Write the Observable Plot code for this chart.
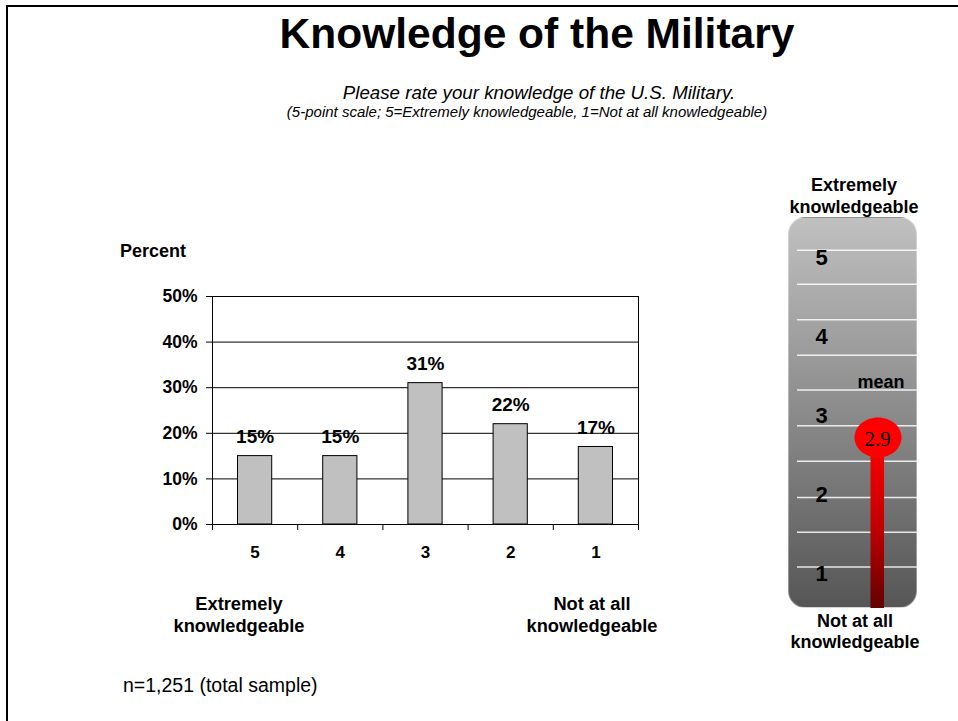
<!DOCTYPE html>
<html>
<head>
<meta charset="utf-8">
<script src="https://cdn.jsdelivr.net/npm/d3@7"></script>
<script src="https://cdn.jsdelivr.net/npm/@observablehq/plot@0.6"></script>
<style>
  html, body { margin: 0; padding: 0; background: #fff; }
  body { width: 958px; height: 721px; position: relative; overflow: hidden;
         font-family: "Liberation Sans", Arial, sans-serif; color: #000; }
  .abs { position: absolute; white-space: nowrap; }
  .c { transform: translateX(-50%); text-align: center; }
  .b { font-weight: bold; }
  #frame { position: absolute; left: 6px; top: 5px; width: 1000px; height: 800px;
           border-top: 2px solid #000; border-left: 2px solid #000; }
  #gaugebg { position: absolute; left: 788px; top: 217px; width: 129px; height: 391px;
             border-radius: 17px; background: linear-gradient(to bottom, #c0c0c0, #565656);
             box-sizing: border-box; border: 1px solid rgba(255,255,255,0.35); }
  svg { overflow: visible; }
</style>
</head>
<body>
<div id="frame"></div>
<div class="abs c b" style="left:537px; top:10px; font-size:42.5px; line-height:48px;">Knowledge of the Military</div>
<div class="abs c" style="left:539px; top:82px; font-size:18.7px; line-height:22px; font-style:italic;">Please rate your knowledge of the U.S. Military.</div>
<div class="abs c" style="left:527px; top:103px; font-size:15px; line-height:18px; font-style:italic;">(5-point scale; 5=Extremely knowledgeable, 1=Not at all knowledgeable)</div>
<div class="abs b" style="left:120px; top:241px; font-size:18px; line-height:20px;">Percent</div>
<div class="abs c b" style="left:239px; top:593px; font-size:18.3px; line-height:22px;">Extremely<br>knowledgeable</div>
<div class="abs c b" style="left:592px; top:593px; font-size:18.3px; line-height:22px;">Not at all<br>knowledgeable</div>
<div class="abs" style="left:123px; top:674px; font-size:19.5px; line-height:22px;">n=1,251 (total sample)</div>
<div class="abs c b" style="left:854px; top:174px; font-size:18px; line-height:22px;">Extremely<br>knowledgeable</div>
<div class="abs c b" style="left:855px; top:611px; font-size:18px; line-height:21px;">Not at all<br>knowledgeable</div>
<div id="gaugebg"></div>
<div id="bars" class="abs" style="left:100px; top:270px;"></div>
<div id="gauge" class="abs" style="left:797px; top:210px;"></div>
<script>
// ---- data ----
const ratings = [5, 4, 3, 2, 1];
const percents = [15, 15, 31, 22, 17];
const yTicks = [0, 10, 20, 30, 40, 50];
const levels = [1, 2, 3, 4, 5];
const gaugeLines = [5.27, 4.84, 4.39, 3.94, 3.50, 3.05, 2.60, 2.14, 1.70, 1.26];
const meanScore = 2.9;

const data = ratings.map((r, i) => ({rating: r, pct: percents[i]}));
const boundaries = ratings.map(r => r + 0.5).concat([ratings[ratings.length - 1] - 0.5]);
const font = "'Liberation Sans', Arial, sans-serif";

const bars = Plot.plot({
  width: 560, height: 320,
  marginLeft: 112, marginRight: 22, marginTop: 26, marginBottom: 66,
  style: {background: "transparent", fontFamily: font, color: "#000", overflow: "visible"},
  x: {type: "linear", domain: [5.5, 0.5]},
  y: {domain: [0, 50]},
  marks: [
    Plot.gridY(yTicks, {stroke: "#000", strokeOpacity: 1, strokeWidth: 1}),
    Plot.rectY(data, {x1: d => d.rating + 0.5, x2: d => d.rating - 0.5, y: "pct",
      insetLeft: 25.5, insetRight: 25.5, fill: "#c0c0c0", stroke: "#000", strokeWidth: 1}),
    Plot.frame({stroke: "#000", strokeWidth: 1}),
    Plot.axisY(yTicks, {tickSize: 6, tickPadding: 9, fontSize: 17.5, fontWeight: "bold",
      tickFormat: d => d + "%", label: null}),
    Plot.axisX(boundaries, {tickSize: 6, tickFormat: () => "", label: null}),
    Plot.axisX(ratings, {tickSize: 0, tickPadding: 21, fontSize: 17, fontWeight: "bold",
      tickFormat: d => String(d), label: null}),
    Plot.text(data, {x: "rating", y: "pct", text: d => d.pct + "%", dy: -19.5,
      fontSize: 19, fontWeight: "bold", fill: "#000"})
  ]
});
document.getElementById("bars").appendChild(bars);

const ellipse = {
  draw(ctx, size) {
    const r = Math.sqrt(size / Math.PI), rx = r * 1.175, ry = r, k = 0.5523;
    ctx.moveTo(rx, 0);
    ctx.bezierCurveTo(rx, k * ry, k * rx, ry, 0, ry);
    ctx.bezierCurveTo(-k * rx, ry, -rx, k * ry, -rx, 0);
    ctx.bezierCurveTo(-rx, -k * ry, -k * rx, -ry, 0, -ry);
    ctx.bezierCurveTo(k * rx, -ry, rx, -k * ry, rx, 0);
    ctx.closePath();
  }
};

const defs = () => {
  const d = d3.create("svg:defs");
  const g = d.append("linearGradient").attr("id", "stemgrad")
    .attr("x1", 0).attr("y1", 0).attr("x2", 0).attr("y2", 1);
  [[0, "#ff0000"], [0.1, "#f20000"], [0.4, "#c00000"], [0.75, "#620000"], [1, "#500000"]]
    .forEach(([o, c]) => g.append("stop").attr("offset", o).attr("stop-color", c));
  return d.node();
};

const gauge = Plot.plot({
  width: 120, height: 398,
  marginLeft: 0, marginRight: 0, marginTop: 0, marginBottom: 0,
  style: {background: "transparent", fontFamily: font, color: "#000", overflow: "visible"},
  y: {domain: [1, 5], range: [377.1, 61.1], axis: null},
  marks: [
    defs,
    Plot.gridY(gaugeLines, {stroke: "#ffffff", strokeOpacity: 0.85, strokeWidth: 1.5}),
    Plot.text(levels, {y: d => d, dy: -14, frameAnchor: "left", dx: 24, textAnchor: "middle",
      text: d => String(d), fontSize: 22, fontWeight: "bold", fill: "#000"}),
    Plot.rectY([meanScore], {y: d => d, insetLeft: 73.5, insetRight: 33,
      fill: "url(#stemgrad)", clip: "frame"}),
    Plot.dot([meanScore], {y: d => d, frameAnchor: "left", dx: 80.5, r: 20,
      symbol: ellipse, fill: "#ff0000", stroke: "none"}),
    Plot.text([meanScore], {y: d => d, frameAnchor: "left", dx: 80, dy: 2, textAnchor: "middle",
      text: d => d.toFixed(1), fontSize: 21, fontFamily: "'Liberation Serif', 'Times New Roman', serif", fill: "#000"}),
    Plot.text([meanScore], {y: d => d, frameAnchor: "left", dx: 83.5, dy: -55, textAnchor: "middle",
      text: () => "mean", fontSize: 18, fontWeight: "bold", fill: "#000"})
  ]
});
document.getElementById("gauge").appendChild(gauge);
</script>
</body>
</html>
